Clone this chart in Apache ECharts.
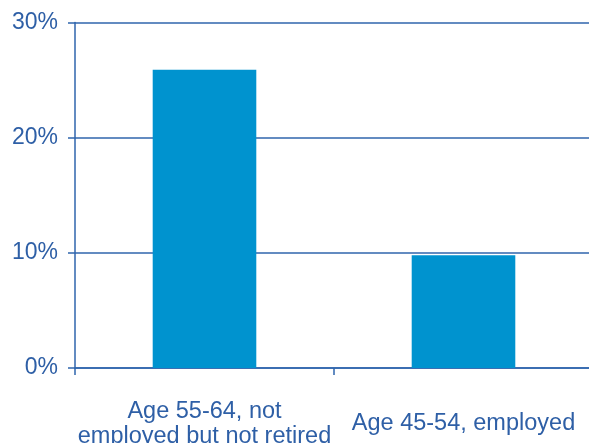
<!DOCTYPE html>
<html>
<head>
<meta charset="utf-8">
<script src="https://cdn.jsdelivr.net/npm/echarts@6/dist/echarts.min.js"></script>
<style>
  html, body { margin: 0; padding: 0; background: #fff; }
  #chart { width: 589px; height: 443px; }
</style>
</head>
<body>
<div id="chart"></div>
<script>
const categories = ['Age 55-64, not\nemployed but not retired', 'Age 45-54, employed'];
const values = [25.9, 9.8];
const yTicks = { min: 0, max: 30, interval: 10 };

const axisColor = '#2f65ad';
const textColor = '#2e5fa6';
const font = '"Liberation Sans", Arial, Helvetica, sans-serif';

const chart = echarts.init(document.getElementById('chart'), null, { renderer: 'canvas' });
chart.setOption({
  animation: false,
  grid: { left: 75, width: 518, top: 22.5, bottom: 75, containLabel: false, outerBoundsMode: 'none' },
  xAxis: {
    type: 'category',
    data: categories,
    axisLine: { show: true, lineStyle: { color: axisColor, width: 1.5 } },
    axisTick: { show: true, length: 7, alignWithLabel: false, lineStyle: { color: axisColor, width: 1.5 } },
    axisLabel: {
      color: textColor, fontFamily: font, fontSize: 23.5, lineHeight: 25,
      margin: 56, verticalAlign: 'middle', interval: 0
    },
    splitLine: { show: false }
  },
  yAxis: {
    type: 'value',
    min: yTicks.min, max: yTicks.max, interval: yTicks.interval,
    axisLine: { show: true, lineStyle: { color: axisColor, width: 1.5 } },
    axisTick: { show: true, length: 7, lineStyle: { color: axisColor, width: 1.5 } },
    axisLabel: { color: textColor, fontFamily: font, fontSize: 23, margin: 17, padding: [4, 0, 0, 0], formatter: '{value}%' },
    splitLine: { show: true, lineStyle: { color: axisColor, width: 1.5 } }
  },
  series: [{
    type: 'bar',
    data: values,
    barWidth: '40%',
    itemStyle: { color: '#0093cf' }
  }]
});
</script>
</body>
</html>
